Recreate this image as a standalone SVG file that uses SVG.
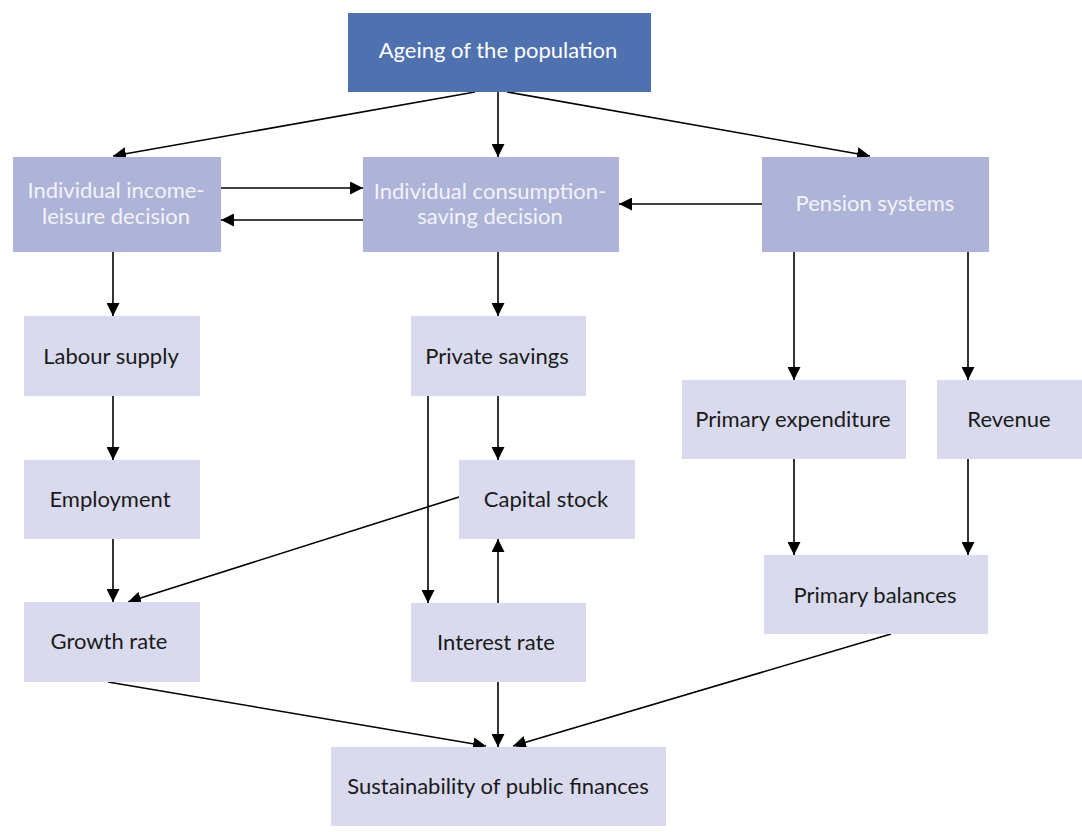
<svg xmlns="http://www.w3.org/2000/svg" width="1082" height="832" viewBox="0 0 1082 832">
<style>
.dark{fill:#4F71B0}
.mid{fill:#AEB4D7}
.light{fill:#D9DAEE}
text{font-family:Lato,"Liberation Sans",sans-serif;font-size:22px;text-anchor:middle}
.w{fill:#FFFFFF}
.wm{fill:#F2F3F9}
.k{fill:#1A1A1A}
.c line{stroke:#000;stroke-width:1.6;marker-end:url(#ah)}
</style>
<defs>
<marker id="ah" markerUnits="userSpaceOnUse" markerWidth="14" markerHeight="13" refX="13" refY="6.5" orient="auto">
<path d="M0,0 L13,6.5 L0,13 z" fill="#000"/>
</marker>
</defs>
<rect width="1082" height="832" fill="#fff"/>
<g class="c" id="connectors">
<line x1="475" y1="92" x2="113" y2="156"/>
<line x1="498" y1="92" x2="498" y2="157"/>
<line x1="507" y1="92" x2="870" y2="156"/>
<line x1="221" y1="188" x2="363" y2="188"/>
<line x1="363" y1="220" x2="221" y2="220"/>
<line x1="762" y1="204" x2="619" y2="204"/>
<line x1="113" y1="252" x2="113" y2="316"/>
<line x1="498" y1="252" x2="498" y2="316"/>
<line x1="794" y1="252" x2="794" y2="380"/>
<line x1="968" y1="252" x2="968" y2="380"/>
<line x1="113" y1="396" x2="113" y2="460"/>
<line x1="113" y1="539" x2="113" y2="602"/>
<line x1="498" y1="396" x2="498" y2="460"/>
<line x1="428" y1="396" x2="428" y2="603"/>
<line x1="498" y1="603" x2="498" y2="539"/>
<line x1="459" y1="497" x2="128" y2="602"/>
<line x1="794" y1="459" x2="794" y2="555"/>
<line x1="968" y1="459" x2="968" y2="555"/>
<line x1="108" y1="682" x2="486" y2="746"/>
<line x1="498" y1="682" x2="498" y2="747"/>
<line x1="891" y1="634" x2="513" y2="746"/>
</g>
<g id="ageing"><rect class="dark" x="348" y="13" width="303" height="79"/><text class="w" x="498" y="58">Ageing of the population</text></g>
<g id="income-leisure"><rect class="mid" x="13" y="157" width="208" height="95"/><text class="wm" x="116" y="198">Individual income-</text><text class="wm" x="116" y="224">leisure decision</text></g>
<g id="consumption-saving"><rect class="mid" x="363" y="157" width="256" height="95"/><text class="wm" x="490" y="199">Individual consumption-</text><text class="wm" x="490" y="224">saving decision</text></g>
<g id="pension"><rect class="mid" x="762" y="157" width="227" height="95"/><text class="wm" x="875" y="211">Pension systems</text></g>
<g id="labour"><rect class="light" x="24" y="316" width="176" height="80"/><text class="k" x="111" y="364">Labour supply</text></g>
<g id="savings"><rect class="light" x="411" y="316" width="175" height="80"/><text class="k" x="497" y="364">Private savings</text></g>
<g id="employment"><rect class="light" x="24" y="460" width="176" height="79"/><text class="k" x="110" y="507">Employment</text></g>
<g id="capital"><rect class="light" x="459" y="460" width="176" height="79"/><text class="k" x="546" y="507">Capital stock</text></g>
<g id="growth"><rect class="light" x="24" y="602" width="176" height="80"/><text class="k" x="109" y="649">Growth rate</text></g>
<g id="interest"><rect class="light" x="411" y="603" width="175" height="79"/><text class="k" x="496" y="650">Interest rate</text></g>
<g id="expenditure"><rect class="light" x="682" y="380" width="224" height="79"/><text class="k" x="793" y="427">Primary expenditure</text></g>
<g id="revenue"><rect class="light" x="937" y="380" width="145" height="79"/><text class="k" x="1009" y="427">Revenue</text></g>
<g id="balances"><rect class="light" x="764" y="555" width="224" height="79"/><text class="k" x="875" y="603">Primary balances</text></g>
<g id="sustainability"><rect class="light" x="331" y="747" width="335" height="79"/><text class="k" x="498" y="794">Sustainability of public finances</text></g>
</svg>
